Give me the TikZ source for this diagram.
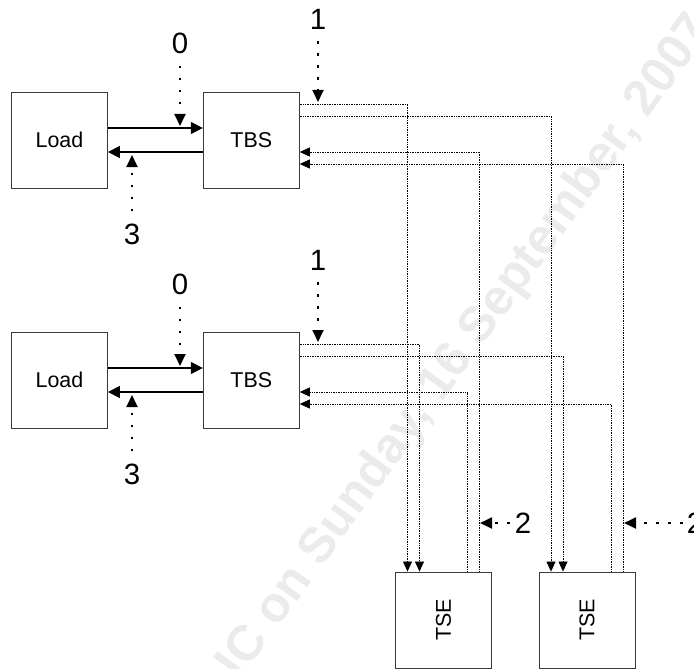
\documentclass[tikz,border=0pt]{standalone}
\usepackage{fontspec}
\setmainfont{Liberation Sans}
\usetikzlibrary{arrows.meta}
\definecolor{boxgray}{HTML}{3A3A3A}
\definecolor{stampgray}{HTML}{EBEBEB}

\begin{document}
\begin{tikzpicture}[x=1bp, y=-1bp,
  box/.style={draw=boxgray, line width=0.9bp, minimum width=96bp, minimum height=96bp,
    inner sep=0pt, font=\fontsize{21.5}{21.5}\selectfont},
  flow/.style={line width=1.5bp, -{Triangle[length=12bp,width=12bp]}},
  sig/.style={line width=0.7bp, densely dotted, -{Triangle[length=10bp,width=9bp]}},
  cue/.style={line width=1.8bp, dash pattern=on 2.5bp off 9.5bp,
    -{Triangle[length=12bp,width=11bp]}, shorten <=12bp},
  num/.style={inner sep=0pt, font=\fontsize{29.5}{29.5}\selectfont}]
  \useasboundingbox (0,0) rectangle (694,669);
  % Watermark
  \node[rotate=54, text=stampgray, font=\bfseries\fontsize{50}{50}\selectfont] (stamp)
    at (466,347) {IC on Sunday, 16 September, 2007};
  % Upper pair
  \node[box] (load1) at (59.5,140) {Load};
  \node[box] (tbs1) at (251.3,140) {TBS};
  % Lower pair
  \node[box] (load2) at (59.5,380) {Load};
  \node[box] (tbs2) at (251.3,380) {TBS};
  % Switching elements
  \node[box] (tse1) at (443.5,620) {\rotatebox{90}{TSE}};
  \node[box] (tse2) at (587,620) {\rotatebox{90}{TSE}};
  % Load <-> TBS
  \draw[flow] ([yshift=12bp]load1.east) -- ([yshift=12bp]tbs1.west);
  \draw[flow] ([yshift=-12bp]tbs1.west) -- ([yshift=-12bp]load1.east);
  \draw[flow] ([yshift=12bp]load2.east) -- ([yshift=12bp]tbs2.west);
  \draw[flow] ([yshift=-12bp]tbs2.west) -- ([yshift=-12bp]load2.east);
  % TBS -> TSE and back
  \draw[sig] ([yshift=36bp]tbs1.east) -| ([xshift=-36bp]tse1.north);
  \draw[sig] ([yshift=24bp]tbs1.east) -| ([xshift=-36bp]tse2.north);
  \draw[sig] ([xshift=36bp]tse1.north) |- ([yshift=-12bp]tbs1.east);
  \draw[sig] ([xshift=36bp]tse2.north) |- ([yshift=-24bp]tbs1.east);
  \draw[sig] ([yshift=36bp]tbs2.east) -| ([xshift=-24bp]tse1.north);
  \draw[sig] ([yshift=24bp]tbs2.east) -| ([xshift=-24bp]tse2.north);
  \draw[sig] ([xshift=24bp]tse1.north) |- ([yshift=-12bp]tbs2.east);
  \draw[sig] ([xshift=24bp]tse2.north) |- ([yshift=-24bp]tbs2.east);
  % Step numbers
  \node[num] (zero1) at (180,43) {0};
  \node[num] (one1) at (318,19) {1};
  \node[num] (three1) at (132,234) {3};
  \node[num] (zero2) at (180,284) {0};
  \node[num] (one2) at (318,260) {1};
  \node[num] (three2) at (132,474) {3};
  \node[num] (two1) at (523,523) {2};
  \node[num] (two2) at (695,523) {2};
  \coordinate (zero1tip) at (180,126);
  \coordinate (one1tip) at (318,102);
  \coordinate (three1tip) at (132,155);
  \coordinate (zero2tip) at (180,366);
  \coordinate (one2tip) at (318,342);
  \coordinate (three2tip) at (132,395);
  \coordinate (two1tip) at (480,523);
  \coordinate (two2tip) at (624,523);
  \draw[cue] (zero1) -- (zero1tip);
  \draw[cue] (one1) -- (one1tip);
  \draw[cue] (three1) -- (three1tip);
  \draw[cue] (zero2) -- (zero2tip);
  \draw[cue] (one2) -- (one2tip);
  \draw[cue] (three2) -- (three2tip);
  \draw[cue, shorten <=5bp] (two1) -- (two1tip);
  \draw[cue, shorten <=4bp] (two2) -- (two2tip);
\end{tikzpicture}
\end{document}
